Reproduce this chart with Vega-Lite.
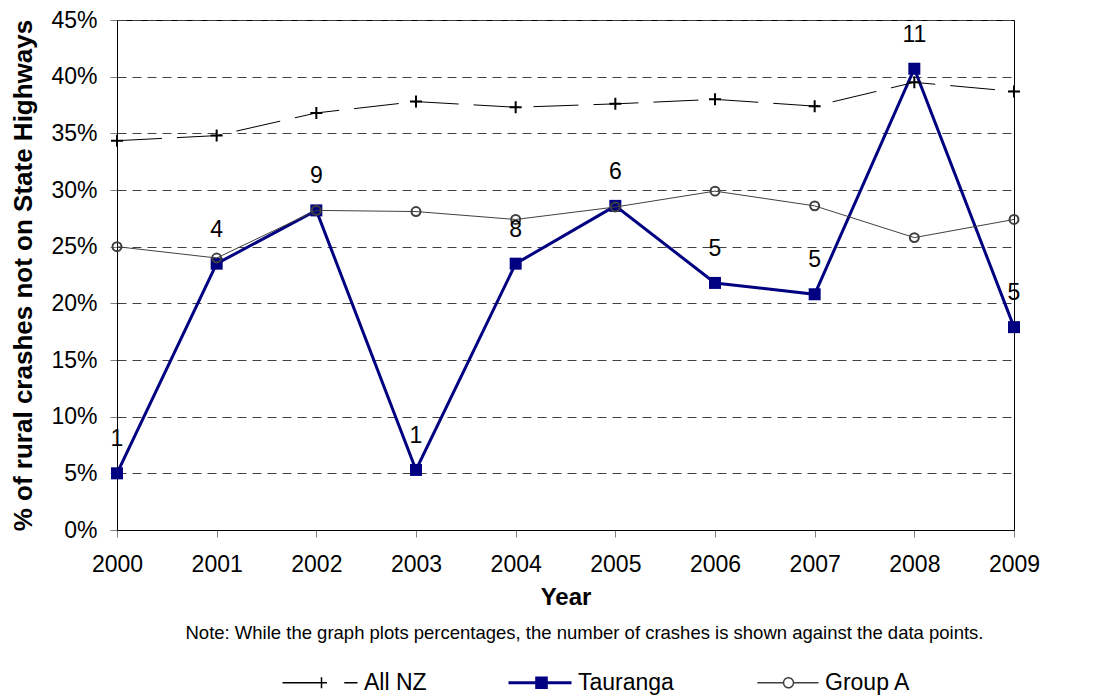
{
  "$schema": "https://vega.github.io/schema/vega-lite/v6.json",
  "autosize": "none",
  "width": 897,
  "height": 510,
  "padding": {"left": 117, "top": 20, "right": 82, "bottom": 170},
  "background": "white",
  "config": {
    "font": "Liberation Sans",
    "view": {"stroke": "#000000", "strokeWidth": 1},
    "axis": {"labelFont": "Liberation Sans", "titleFont": "Liberation Sans", "labelColor": "#000000", "titleColor": "#000000"}
  },
  "title": {
    "text": "Note:  While the graph plots percentages, the number of crashes is shown against the data points.",
    "orient": "bottom",
    "anchor": "middle",
    "fontSize": 18.5,
    "fontWeight": "normal",
    "font": "Liberation Sans",
    "color": "#000000",
    "offset": -71,
    "dx": 19
  },
  "data": {
    "values": [
      {"series": "All NZ", "year": 2000, "pct": 0.3435},
      {"series": "All NZ", "year": 2001, "pct": 0.348},
      {"series": "All NZ", "year": 2002, "pct": 0.368},
      {"series": "All NZ", "year": 2003, "pct": 0.378},
      {"series": "All NZ", "year": 2004, "pct": 0.373},
      {"series": "All NZ", "year": 2005, "pct": 0.376},
      {"series": "All NZ", "year": 2006, "pct": 0.380},
      {"series": "All NZ", "year": 2007, "pct": 0.374},
      {"series": "All NZ", "year": 2008, "pct": 0.395},
      {"series": "All NZ", "year": 2009, "pct": 0.387},
      {"series": "Tauranga", "year": 2000, "pct": 0.050, "count": 1},
      {"series": "Tauranga", "year": 2001, "pct": 0.235, "count": 4},
      {"series": "Tauranga", "year": 2002, "pct": 0.282, "count": 9},
      {"series": "Tauranga", "year": 2003, "pct": 0.053, "count": 1},
      {"series": "Tauranga", "year": 2004, "pct": 0.235, "count": 8},
      {"series": "Tauranga", "year": 2005, "pct": 0.286, "count": 6},
      {"series": "Tauranga", "year": 2006, "pct": 0.218, "count": 5},
      {"series": "Tauranga", "year": 2007, "pct": 0.208, "count": 5},
      {"series": "Tauranga", "year": 2008, "pct": 0.407, "count": 11},
      {"series": "Tauranga", "year": 2009, "pct": 0.179, "count": 5},
      {"series": "Group A", "year": 2000, "pct": 0.250},
      {"series": "Group A", "year": 2001, "pct": 0.240},
      {"series": "Group A", "year": 2002, "pct": 0.282},
      {"series": "Group A", "year": 2003, "pct": 0.281},
      {"series": "Group A", "year": 2004, "pct": 0.274},
      {"series": "Group A", "year": 2005, "pct": 0.285},
      {"series": "Group A", "year": 2006, "pct": 0.299},
      {"series": "Group A", "year": 2007, "pct": 0.286},
      {"series": "Group A", "year": 2008, "pct": 0.258},
      {"series": "Group A", "year": 2009, "pct": 0.274}
    ]
  },
  "encoding": {
    "x": {
      "field": "year",
      "type": "quantitative",
      "scale": {"domain": [2000, 2009], "nice": false, "zero": false},
      "axis": {
        "title": "Year",
        "titleFontSize": 24,
        "titleFontWeight": "bold",
        "titlePadding": 9,
        "values": [2000, 2001, 2002, 2003, 2004, 2005, 2006, 2007, 2008, 2009],
        "format": "d",
        "labelFontSize": 23,
        "labelPadding": 16,
        "tickSize": 7,
        "tickColor": "#808080",
        "domainColor": "#000000",
        "grid": false,
        "labelFlush": false
      }
    },
    "y": {
      "field": "pct",
      "type": "quantitative",
      "scale": {"domain": [0, 0.45], "nice": false},
      "axis": {
        "title": "% of rural crashes not on State Highways",
        "titleFontSize": 26,
        "titleFontWeight": "bold",
        "titlePadding": 14,
        "values": [0, 0.05, 0.1, 0.15, 0.2, 0.25, 0.3, 0.35, 0.4, 0.45],
        "format": ".0%",
        "labelFontSize": 23,
        "labelPadding": 13,
        "tickSize": 7,
        "tickColor": "#808080",
        "domainColor": "#000000",
        "grid": true,
        "gridColor": "#404040",
        "gridDash": [9, 6],
        "gridWidth": 1
      }
    }
  },
  "layer": [
    {
      "transform": [{"filter": "datum.series === 'Tauranga'"}],
      "mark": {"type": "line", "strokeWidth": 3},
      "encoding": {
        "color": {
          "field": "series",
          "type": "nominal",
          "scale": {"domain": ["All NZ", "Tauranga", "Group A"], "range": ["#000000", "#000080", "#404040"]},
          "legend": {
            "title": null,
            "orient": "none",
            "direction": "horizontal",
            "legendX": 160,
            "legendY": 651,
            "padding": 0,
            "labelFontSize": 23,
            "labelFont": "Liberation Sans",
            "labelColor": "#000000",
            "labelOffset": 64,
            "labelLimit": 300,
            "columnPadding": 64,
            "symbolSize": 144,
            "symbolStrokeWidth": 1.5,
            "encode": {
              "symbols": {
                "update": {
                  "shape": {"signal": "datum.value === 'All NZ' ? 'M-1,0L4.6,0M4.6,0L6.4,0M5.5,-0.9L5.5,0.9M9.3,0L11.5,0' : datum.value === 'Tauranga' ? 'M1,0L11.5,0M5.7,-0.8L7.3,-0.8L7.3,0.8L5.7,0.8Z' : 'M1.3,0L5.67,0M7.33,0L11.5,0M7.33,0A0.83,0.83 0 1,1 5.67,0A0.83,0.83 0 1,1 7.33,0'"},
                  "stroke": {"signal": "datum.value === 'Tauranga' ? '#000080' : '#000000'"},
                  "fill": {"signal": "datum.value === 'Tauranga' ? '#000080' : 'transparent'"},
                  "strokeWidth": {"signal": "datum.value === 'Tauranga' ? 3 : 1.5"},
                  "strokeDash": {"value": [1, 0]},
                  "opacity": {"value": 1},
                  "size": {"value": 144}
                }
              }
            }
          }
        }
      }
    },
    {
      "transform": [{"filter": "datum.series === 'Tauranga'"}],
      "mark": {"type": "point", "shape": "square", "size": 144, "filled": true, "color": "#000080", "opacity": 1}
    },
    {
      "transform": [{"filter": "datum.series === 'All NZ'"}],
      "mark": {"type": "line", "color": "#000000", "strokeWidth": 1, "strokeDash": [45, 15]},
      "encoding": {}
    },
    {
      "transform": [{"filter": "datum.series === 'All NZ'"}],
      "mark": {"type": "point", "shape": "M-1,0L1,0M0,-1L0,1", "size": 144, "filled": false, "stroke": "#000000", "strokeWidth": 2, "opacity": 1}
    },
    {
      "transform": [{"filter": "datum.series === 'Group A'"}],
      "mark": {"type": "line", "color": "#404040", "strokeWidth": 1},
      "encoding": {}
    },
    {
      "transform": [{"filter": "datum.series === 'Group A'"}],
      "mark": {"type": "point", "shape": "circle", "size": 80, "filled": false, "stroke": "#404040", "strokeWidth": 2, "opacity": 1}
    },
    {
      "transform": [{"filter": "datum.series === 'Tauranga'"}],
      "mark": {"type": "text", "fontSize": 23, "font": "Liberation Sans", "color": "#000000", "dy": -34, "align": "center", "baseline": "middle"},
      "encoding": {"text": {"field": "count", "type": "quantitative"}}
    }
  ]
}
